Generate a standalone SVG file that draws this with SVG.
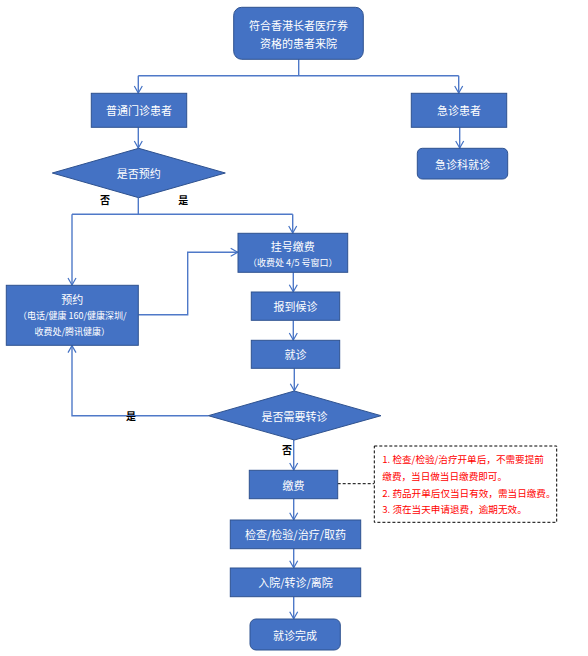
<svg xmlns="http://www.w3.org/2000/svg" width="588" height="656" viewBox="0 0 588 656">
<style>
.box{fill:#4472C4;stroke:#2F528F;stroke-width:1}
.t{font-family:"Noto Sans CJK SC","Microsoft YaHei",sans-serif;font-size:11px;fill:#FFFFFF;text-anchor:middle;dominant-baseline:central}
.s{font-size:9px}
.lbl{font-family:"Noto Sans CJK SC",sans-serif;font-size:10px;font-weight:bold;fill:#000000;text-anchor:middle;dominant-baseline:central}
.c{fill:none;stroke:#4F79C8;stroke-width:1.4}
.note{font-family:"Noto Sans CJK SC",sans-serif;font-size:9.6px;fill:#FF0000;dominant-baseline:central}
</style>
<defs>
<marker id="arr" markerUnits="userSpaceOnUse" markerWidth="10" markerHeight="10" viewBox="0 0 10 10" refX="9" refY="5" orient="auto">
<path d="M2,1 L9,5 L2,9" fill="none" stroke="#4472C4" stroke-width="1.2"/>
</marker>
</defs>
<rect width="588" height="656" fill="#FFFFFF"/>
<g id="connectors">
<path class="c" d="M298.7,59.3 V75.7"/>
<path class="c" d="M138.3,75.7 H458.7"/>
<path class="c" d="M138.3,75.7 V93" marker-end="url(#arr)"/>
<path class="c" d="M458.7,75.7 V93" marker-end="url(#arr)"/>
<path class="c" d="M459.7,127.3 V148" marker-end="url(#arr)"/>
<path class="c" d="M138.3,127.3 V148" marker-end="url(#arr)"/>
<path class="c" d="M138.3,197.7 V214.3"/>
<path class="c" d="M72,214.3 H292.7"/>
<path class="c" d="M72,214.3 V285" marker-end="url(#arr)"/>
<path class="c" d="M292.7,214.3 V233" marker-end="url(#arr)"/>
<path class="c" d="M138.3,314.7 H187.7 V252.3 H237.7" marker-end="url(#arr)"/>
<path class="c" d="M293.3,272.3 V291.7" marker-end="url(#arr)"/>
<path class="c" d="M293.3,320.3 V340" marker-end="url(#arr)"/>
<path class="c" d="M294.3,368.3 V390.7" marker-end="url(#arr)"/>
<path class="c" d="M208.3,415.7 H72 V345.6" marker-end="url(#arr)"/>
<path class="c" d="M293.7,440 V470" marker-end="url(#arr)"/>
<path class="c" d="M293.7,498.7 V519.7" marker-end="url(#arr)"/>
<path class="c" d="M293.7,548.7 V567.7" marker-end="url(#arr)"/>
<path class="c" d="M293.7,596.7 V618.7" marker-end="url(#arr)"/>
<path d="M337.7,483.7 H374.3" fill="none" stroke="#000000" stroke-width="1" stroke-dasharray="3,2"/>
</g>
<g id="n1">
<rect class="box" x="233.7" y="7.3" width="129.6" height="52" rx="8"/>
<text class="t" x="298.5" y="25">符合香港长者医疗券</text>
<text class="t" x="298.5" y="43">资格的患者来院</text>
</g>
<g id="n2">
<rect class="box" x="91.3" y="93.3" width="95.4" height="34"/>
<text class="t" x="139" y="110.3">普通门诊患者</text>
</g>
<g id="n3">
<rect class="box" x="411.3" y="93.3" width="95.4" height="34"/>
<text class="t" x="459" y="110.3">急诊患者</text>
</g>
<g id="n4">
<rect class="box" x="417.3" y="148.3" width="90.4" height="30.7" rx="5"/>
<text class="t" x="462.5" y="163.7">急诊科就诊</text>
</g>
<g id="d1">
<polygon class="box" points="52.3,173 138.7,148.3 225.3,173 138.7,197.7"/>
<text class="t" x="138.7" y="173">是否预约</text>
</g>
<g id="labels">
<text class="lbl" x="105" y="199.3">否</text>
<text class="lbl" x="183.3" y="199.3">是</text>
<text class="lbl" x="131" y="415">是</text>
<text class="lbl" x="287" y="449">否</text>
</g>
<g id="n5">
<rect class="box" x="6.3" y="285.3" width="132" height="60"/>
<text class="t" x="72.3" y="299">预约</text>
<text class="t s" x="72.3" y="315">（电话/健康 160/健康深圳/</text>
<text class="t s" x="72.3" y="331">收费处/腾讯健康）</text>
</g>
<g id="n6">
<rect class="box" x="238" y="233.3" width="109.7" height="39"/>
<text class="t" x="292.8" y="246">挂号缴费</text>
<text class="t s" x="292.8" y="262.7">（收费处 4/5 号窗口）</text>
</g>
<g id="n7">
<rect class="box" x="251.3" y="292" width="88.4" height="28.3"/>
<text class="t" x="295.5" y="306">报到候诊</text>
</g>
<g id="n8">
<rect class="box" x="251.3" y="340.3" width="88.4" height="28"/>
<text class="t" x="295.5" y="354.3">就诊</text>
</g>
<g id="d2">
<polygon class="box" points="208.3,415.7 294.3,391 381,415.7 294.3,440"/>
<text class="t" x="294.5" y="415.7">是否需要转诊</text>
</g>
<g id="n9">
<rect class="box" x="249.3" y="470.3" width="88.4" height="28.4"/>
<text class="t" x="293.5" y="484.5">缴费</text>
</g>
<g id="note">
<rect x="374.3" y="446" width="182.4" height="76.3" fill="#FFFFFF" stroke="#000000" stroke-width="1" stroke-dasharray="3,2"/>
<text class="note" x="382.3" y="459.3">1. 检查/检验/治疗开单后，不需要提前</text>
<text class="note" x="382.3" y="475.8">缴费，当日做当日缴费即可。</text>
<text class="note" x="382.3" y="492.7">2. 药品开单后仅当日有效，需当日缴费。</text>
<text class="note" x="382.3" y="509.3">3. 须在当天申请退费，逾期无效。</text>
</g>
<g id="n10">
<rect class="box" x="230.3" y="520" width="130.4" height="28.7"/>
<text class="t" x="295.5" y="534.3">检查/检验/治疗/取药</text>
</g>
<g id="n11">
<rect class="box" x="230.3" y="568" width="130.4" height="28.7"/>
<text class="t" x="295.5" y="582.3">入院/转诊/离院</text>
</g>
<g id="n12">
<rect class="box" x="250" y="619" width="90.3" height="31" rx="6"/>
<text class="t" x="295" y="634.5">就诊完成</text>
</g>
</svg>
